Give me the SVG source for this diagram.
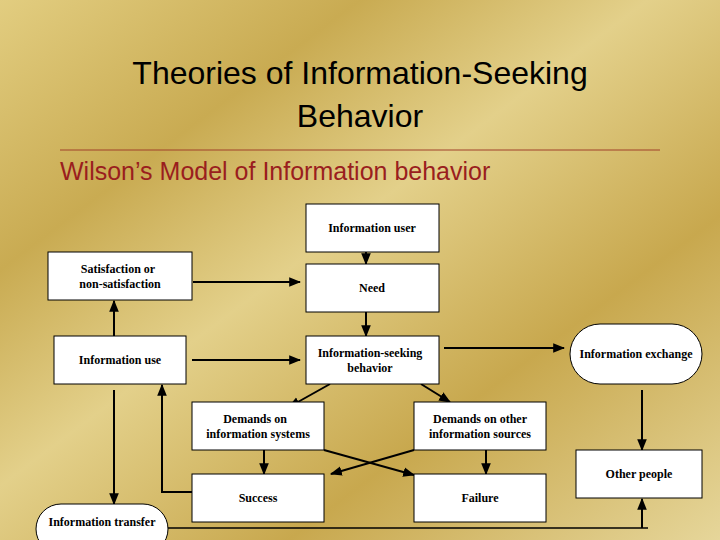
<svg xmlns="http://www.w3.org/2000/svg" width="720" height="540" viewBox="0 0 720 540">
<defs>
<linearGradient id="bg" x1="0" y1="0" x2="1" y2="1">
<stop offset="0" stop-color="#e2cd80"/>
<stop offset="0.25" stop-color="#c9ab52"/>
<stop offset="0.45" stop-color="#e3d08a"/>
<stop offset="0.7" stop-color="#c8a84e"/>
<stop offset="1" stop-color="#e6d69a"/>
</linearGradient>
<marker id="ah" viewBox="0 0 10 10" refX="9" refY="5" markerWidth="6" markerHeight="6" orient="auto"><path d="M0,1 L10,5 L0,9 z" fill="#000"/></marker>
<style>
.b{fill:#fff;stroke:#000;stroke-width:1}
.t{font-family:"Liberation Serif",serif;font-size:12px;font-weight:bold;text-anchor:middle}
.c{stroke:#000;stroke-width:2;fill:none;marker-end:url(#ah)}
.n{stroke:#000;stroke-width:1.5;fill:none}
</style>
</defs>
<rect width="720" height="540" fill="url(#bg)"/>
<text x="360" y="84" font-family="Liberation Sans,sans-serif" font-size="32" text-anchor="middle">Theories of Information-Seeking</text>
<text x="360" y="127" font-family="Liberation Sans,sans-serif" font-size="32" text-anchor="middle">Behavior</text>
<line x1="60" y1="150" x2="660" y2="150" stroke="#a0402a" stroke-width="1"/>
<text x="60" y="180" font-family="Liberation Sans,sans-serif" font-size="25" fill="#9a1e1e">Wilson’s Model of Information behavior</text>
<g id="connectors">
<line class="c" x1="366" y1="252" x2="366" y2="264"/>
<line class="c" x1="366" y1="312" x2="366" y2="336"/>
<line class="c" x1="193" y1="282" x2="300" y2="282"/>
<line class="c" x1="192" y1="360" x2="300" y2="360"/>
<line class="c" x1="114" y1="336" x2="114" y2="301"/>
<line class="c" x1="114" y1="390" x2="114" y2="504"/>
<polyline class="c" points="192,492 162,492 162,385"/>
<line class="c" x1="330" y1="384" x2="289" y2="407"/>
<line class="c" x1="421" y1="384" x2="450" y2="402"/>
<line class="c" x1="444" y1="348" x2="564" y2="348"/>
<line class="c" x1="264" y1="450" x2="264" y2="474"/>
<line class="c" x1="486" y1="450" x2="486" y2="474"/>
<line class="c" x1="324" y1="450" x2="414" y2="475"/>
<line class="c" x1="414" y1="450" x2="331" y2="474"/>
<line class="c" x1="642" y1="390" x2="642" y2="450"/>
<polyline class="n" points="168,528 648,528"/>
<line class="c" x1="642" y1="528" x2="642" y2="499"/>
</g>
<g id="user"><rect class="b" x="306" y="204" width="133" height="48"/><text class="t" x="372" y="232">Information user</text></g>
<g id="need"><rect class="b" x="306" y="264" width="133" height="48"/><text class="t" x="372" y="292">Need</text></g>
<g id="satisfaction"><rect class="b" x="48" y="252" width="144" height="48"/><text class="t" x="118" y="273">Satisfaction or</text><text class="t" x="120" y="288">non-satisfaction</text></g>
<g id="use"><rect class="b" x="54" y="336" width="132" height="48"/><text class="t" x="120" y="364">Information use</text></g>
<g id="seeking"><rect class="b" x="306" y="336" width="133" height="48"/><text class="t" x="370" y="357">Information-seeking</text><text class="t" x="370" y="372">behavior</text></g>
<g id="exchange"><rect class="b" x="570" y="324" width="132" height="60" rx="30"/><text class="t" x="636" y="358">Information exchange</text></g>
<g id="demsys"><rect class="b" x="192" y="402" width="132" height="48"/><text class="t" x="255" y="423">Demands on</text><text class="t" x="258" y="438">information systems</text></g>
<g id="demother"><rect class="b" x="414" y="402" width="132" height="48"/><text class="t" x="480" y="423">Demands on other</text><text class="t" x="480" y="438">information sources</text></g>
<g id="success"><rect class="b" x="192" y="474" width="132" height="48"/><text class="t" x="258" y="502">Success</text></g>
<g id="failure"><rect class="b" x="414" y="474" width="132" height="48"/><text class="t" x="480" y="502">Failure</text></g>
<g id="other"><rect class="b" x="576" y="450" width="126" height="48"/><text class="t" x="639" y="478">Other people</text></g>
<g id="transfer"><rect class="b" x="36" y="504" width="132" height="50" rx="25"/><text class="t" x="102" y="526">Information transfer</text></g>
</svg>
